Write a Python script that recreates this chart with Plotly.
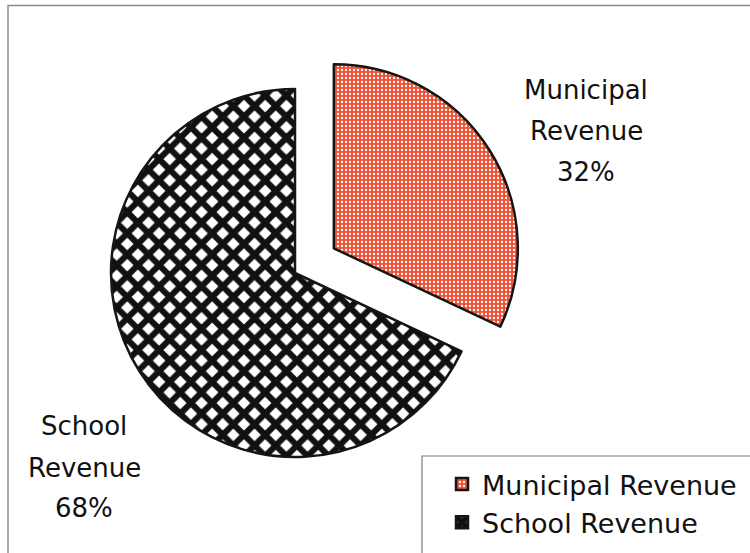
import plotly.graph_objects as go

labels = ["Municipal Revenue", "School Revenue"]
values = [32, 68]
label_lines = [["Municipal", "Revenue", "32%"], ["School", "Revenue", "68%"]]

W, H = 750, 553

def px(x):
    return x / W

def py(y):
    return 1 - y / H

# pie geometry (pixels): centre (295, 273), radius 184, pull .25
cx, cy, r, pull = 295, 273, 184, 0.25
half = r * (1 + pull)

fig = go.Figure()
fig.add_trace(go.Pie(
    labels=labels,
    values=values,
    sort=False,
    direction="clockwise",
    rotation=0,
    pull=[pull, 0],
    textinfo="none",
    hoverinfo="label+percent",
    domain=dict(x=[px(cx - half), px(cx + half)], y=[py(cy + half), py(cy - half)]),
    marker=dict(
        colors=["#ee5b3c", "#111111"],
        line=dict(color="#151515", width=2.5),
        pattern=dict(
            shape=[".", "x"],
            bgcolor=["#ec5438", "#ffffff"],
            fgcolor=["#ffffff", "#111111"],
            fgopacity=1,
            size=[4, 15],
            solidity=[0.25, 0.65],
            fillmode="replace",
        ),
    ),
))

# label positions (pixels) of each line centre
label_pos = [(586, [90, 131, 172]), (84, [426, 468, 508])]
annotations = []
for (x, ys), lines in zip(label_pos, label_lines):
    for yy, t in zip(ys, lines):
        annotations.append(dict(
            x=px(x), y=py(yy), xref="paper", yref="paper",
            text=t, showarrow=False, xanchor="center", yanchor="middle",
            font=dict(family="DejaVu Sans", size=26, color="#111111"),
        ))

shapes = [
    # outer chart frame
    dict(type="rect", xref="paper", yref="paper",
         x0=px(8), x1=px(760), y0=py(570), y1=py(5.5),
         line=dict(color="#8a8a8a", width=1.5), fillcolor="rgba(0,0,0,0)"),
    # legend frame
    dict(type="rect", xref="paper", yref="paper",
         x0=px(422), x1=px(770), y0=py(570), y1=py(456),
         line=dict(color="#7a7a7a", width=1.2), fillcolor="rgba(0,0,0,0)"),
]

fig.update_layout(
    width=W, height=H,
    margin=dict(l=0, r=0, t=0, b=0),
    paper_bgcolor="white",
    plot_bgcolor="white",
    showlegend=True,
    legend=dict(
        x=px(442), y=py(460), xanchor="left", yanchor="top",
        font=dict(family="DejaVu Sans", size=27, color="#111111"),
        bgcolor="rgba(0,0,0,0)", borderwidth=0,
        traceorder="normal",
    ),
    annotations=annotations,
    shapes=shapes,
)

fig.write_html("out.html")
